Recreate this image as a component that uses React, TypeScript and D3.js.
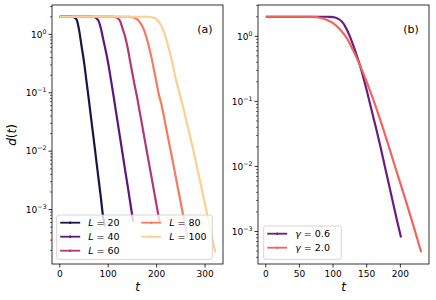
import * as d3 from "d3";

// panel (a): d(t) for several system sizes L
const tL20 = [0, 10, 20, 25, 30, 35, 40, 45, 50, 55, 60, 65, 70, 75, 80, 85, 90, 93];
const dL20 = [2, 2, 2, 2, 1.95, 1.78, 1.17, 0.63, 0.34, 0.162, 0.076, 0.035, 0.0163, 0.0074, 0.0034, 0.00155, 0.0007, 0.00052];

const tL40 = [0, 20, 40, 60, 65, 70, 75, 80, 85, 90, 95, 100, 105, 110, 115, 120, 125, 130, 135, 140, 145, 150, 152];
const dL40 = [2, 2, 2, 2, 2, 1.98, 1.9, 1.7, 1.26, 0.8, 0.52, 0.32, 0.18, 0.1, 0.0543, 0.0295, 0.016, 0.0087, 0.0047, 0.0026, 0.0014, 0.00076, 0.00062];

const tL60 = [0, 50, 100, 105, 110, 115, 120, 125, 130, 135, 140, 145, 150, 155, 160, 165, 170, 175, 180, 185, 190, 195, 200, 206];
const dL60 = [2, 2, 2, 2, 1.99, 1.97, 1.88, 1.66, 1.23, 0.91, 0.6, 0.355, 0.214, 0.13, 0.081, 0.0476, 0.028, 0.0165, 0.0097, 0.0057, 0.00337, 0.00199, 0.00117, 0.00062];

const tL80 = [0, 50, 100, 140, 145, 150, 155, 160, 165, 170, 175, 180, 185, 190, 195, 200, 205, 210, 215, 220, 225, 230, 235, 240, 245, 250, 255, 260, 264];
const dL80 = [2, 2, 2, 2, 1.99, 1.96, 1.9, 1.8, 1.62, 1.4, 1.12, 0.83, 0.58, 0.38, 0.235, 0.146, 0.09, 0.063, 0.0394, 0.0242, 0.0148, 0.0093, 0.00566, 0.00345, 0.0021, 0.00128, 0.00078, 0.00048, 0.00032];

const tL100 = [0, 50, 100, 150, 180, 185, 190, 195, 200, 205, 210, 215, 220, 225, 230, 235, 240, 245, 250, 255, 260, 265, 270, 275, 280, 285, 290, 295, 300, 305, 310, 315, 321];
const dL100 = [2, 2, 2, 2, 2, 1.99, 1.96, 1.91, 1.8, 1.62, 1.38, 1.1, 0.82, 0.58, 0.4, 0.26, 0.165, 0.117, 0.081, 0.055, 0.037, 0.025, 0.0166, 0.011, 0.0072, 0.0046, 0.003, 0.00192, 0.00123, 0.00078, 0.0005, 0.00032, 0.000186];

// panel (b): two values of gamma
const tG06 = [0, 30, 60, 90, 95, 100, 105, 110, 115, 120, 125, 130, 135, 140, 145, 150, 155, 160, 165, 170, 175, 180, 185, 190, 195, 201];
const dG06 = [2, 2, 2, 2, 1.99, 1.97, 1.92, 1.8, 1.6, 1.3, 1.0, 0.724, 0.513, 0.358, 0.234, 0.148, 0.0912, 0.0562, 0.0347, 0.0209, 0.0123, 0.00724, 0.00427, 0.00251, 0.00148, 0.00081];

const tG20 = [0, 30, 60, 70, 80, 90, 100, 110, 120, 130, 140, 150, 160, 170, 180, 190, 200, 210, 220, 231];
const dG20 = [2, 2, 2, 1.99, 1.93, 1.8, 1.6, 1.29, 0.955, 0.603, 0.358, 0.2, 0.105, 0.0525, 0.0251, 0.0117, 0.0055, 0.00257, 0.00117, 0.00048];

const labelsA = ["20", "40", "60", "80", "100"];
const colorsA = ["#1f1147", "#5c167e", "#b3367a", "#f9795d", "#fdcf92"];
const labelsB = ["0.6", "2.0"];
const colorsB = ["#6a1c81", "#f3635e"];

const xTicksA = [0, 100, 200, 300];
const xTicksB = [0, 50, 100, 150, 200];
const yTicks = [0, -1, -2, -3];

type Series = {label: string; color: string; pts: [number, number][]};

const zip = (t: number[], d: number[]) => t.map((v, i) => [v, d[i]] as [number, number]);

const seriesA: Series[] = [[tL20, dL20], [tL40, dL40], [tL60, dL60], [tL80, dL80], [tL100, dL100]]
  .map(([t, d], i) => ({label: labelsA[i], color: colorsA[i], pts: zip(t, d)}));
const seriesB: Series[] = [[tG06, dG06], [tG20, dG20]]
  .map(([t, d], i) => ({label: labelsB[i], color: colorsB[i], pts: zip(t, d)}));

const font = "DejaVu Sans, sans-serif";

const Panel = ({id, series, box, xTicks, tag, legend}: {
  id: string; series: Series[]; box: {l: number; r: number; t: number; b: number};
  xTicks: number[]; tag: string; legend: "a" | "b";
}) => {
  const all = series.flatMap(s => s.pts);
  const [tMin, tMax] = d3.extent(all, p => p[0]) as [number, number];
  const [lMin, lMax] = d3.extent(all, p => Math.log10(p[1])) as [number, number];
  const mx = (tMax - tMin) * 0.05;
  const my = (lMax - lMin) * 0.05;
  const x = d3.scaleLinear().domain([tMin - mx, tMax + mx]).range([box.l, box.r]);
  const y = d3.scaleLog().domain([10 ** (lMin - my), 10 ** (lMax + my)]).range([box.b, box.t]);
  const line = d3.line<[number, number]>().x(p => x(p[0])).y(p => y(p[1])).curve(d3.curveMonotoneX);

  const [y0, y1] = y.domain();
  const minor: number[] = [];
  for (let k = -5; k <= 1; k++) for (let m = 2; m <= 9; m++) {
    const v = m * 10 ** k;
    if (v >= y0 && v <= y1) minor.push(v);
  }

  // legend layout
  const rowH = 14;
  const lg = legend === "a"
    ? {x: box.l + 4.7, y: 215, w: 155.6, h: 44.3, cols: 2, colW: 81, rows: 3, sym: "L"}
    : {x: box.l + 5.7, y: 226, w: 77.6, h: 33.3, cols: 1, colW: 0, rows: 2, sym: "γ"};

  return (
    <g>
      <defs>
        <clipPath id={`clip-${id}`}>
          <rect x={box.l} y={box.t} width={box.r - box.l} height={box.b - box.t}/>
        </clipPath>
      </defs>
      <g clipPath={`url(#clip-${id})`}>
        {series.map(s => (
          <path key={s.label} d={line(s.pts) ?? ""} fill="none" stroke={s.color}
                strokeWidth={2.2} strokeLinejoin="round"/>
        ))}
      </g>
      {/* x ticks */}
      {xTicks.map(v => (
        <g key={v} transform={`translate(${x(v)},${box.b})`}>
          <line y2={3.5} stroke="#000" strokeWidth={0.8}/>
          <text y={13} textAnchor="middle" fontSize={9} fontFamily={font}>{v}</text>
        </g>
      ))}
      {/* y ticks */}
      {minor.map(v => (
        <line key={v} x1={box.l - 2} x2={box.l} y1={y(v)} y2={y(v)} stroke="#000" strokeWidth={0.6}/>
      ))}
      {yTicks.map(k => (
        <g key={k} transform={`translate(${box.l},${y(10 ** k)})`}>
          <line x1={-3.5} stroke="#000" strokeWidth={0.8}/>
          <text x={-5.5} y={3.2} textAnchor="end" fontSize={9} fontFamily={font}>
            10<tspan fontSize={6.3} dy={-4}>{k === 0 ? "0" : `−${-k}`}</tspan>
          </text>
        </g>
      ))}
      <text x={(box.l + box.r) / 2} y={291} textAnchor="middle" fontSize={12}
            fontStyle="italic" fontFamily={font}>t</text>
      <text x={box.r - 18} y={33} textAnchor="middle" fontSize={11} fontFamily={font}>{tag}</text>
      {/* legend */}
      <rect x={lg.x} y={lg.y} width={lg.w} height={lg.h} rx={2} fill="#fff" fillOpacity={0.8}
            stroke="#cccccc" strokeWidth={0.8}/>
      {series.map((s, i) => {
        const c = Math.floor(i / lg.rows);
        const r = i % lg.rows;
        const lx = lg.x + 3.5 + c * lg.colW;
        const ly = lg.y + 7.7 + r * rowH;
        return (
          <g key={s.label}>
            <line x1={lx} x2={lx + 20} y1={ly} y2={ly} stroke={s.color} strokeWidth={1.8}/>
            <circle cx={lx + 10} cy={ly} r={1.2} fill={s.color}/>
            <text x={lx + 28} y={ly + 3.4} fontSize={9.5} fontFamily={font}>
              <tspan fontStyle="italic">{lg.sym}</tspan> = {s.label}
            </text>
          </g>
        );
      })}
      <rect x={box.l} y={box.t} width={box.r - box.l} height={box.b - box.t}
            fill="none" stroke="#000" strokeWidth={0.8}/>
    </g>
  );
};

const App = () => (
  <svg width={436} height={300} style={{position: "absolute", left: 0, top: 0, background: "#fff"}}>
    <Panel id="a" series={seriesA} box={{l: 52, r: 223, t: 5, b: 264}} xTicks={xTicksA} tag="(a)" legend="a"/>
    <Panel id="b" series={seriesB} box={{l: 258, r: 429, t: 5, b: 264}} xTicks={xTicksB} tag="(b)" legend="b"/>
    <text transform="translate(16,135) rotate(-90)" textAnchor="middle" fontSize={12} fontFamily={font}>
      <tspan fontStyle="italic">d</tspan>(<tspan fontStyle="italic">t</tspan>)
    </text>
  </svg>
);

export default App;
